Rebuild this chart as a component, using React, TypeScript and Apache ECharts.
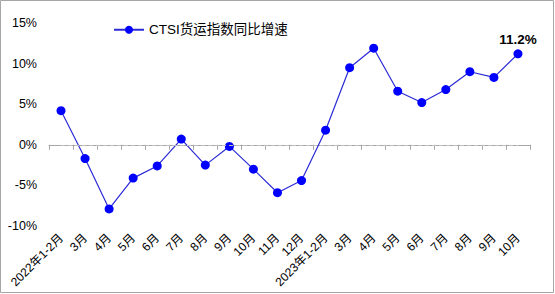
import React, { useEffect, useRef } from "react";
import * as echarts from "echarts";

const categories = [
  "2022年1-2月", "3月", "4月", "5月", "6月", "7月", "8月", "9月", "10月", "11月", "12月",
  "2023年1-2月", "3月", "4月", "5月", "6月", "7月", "8月", "9月", "10月",
];
const growth = [4.2, -1.7, -7.9, -4.1, -2.6, 0.7, -2.5, -0.2, -3.0, -5.9, -4.4, 1.8, 9.5, 11.9, 6.6, 5.2, 6.8, 9.0, 8.3, 11.2];
const seriesName = "CTSI货运指数同比增速";
const yMin = -10;
const yMax = 15;
const yStep = 5;

const FONT = "'Liberation Sans', Arial, 'Noto Sans CJK SC', sans-serif";

export default function App() {
  const ref = useRef<HTMLDivElement>(null);
  useEffect(() => {
    document.body.style.margin = "0";
    if (!ref.current) return;
    const chart = echarts.init(ref.current, null, { renderer: "svg" });
    const last = growth.length - 1;
    chart.setOption({
      animation: false,
      backgroundColor: "#ffffff",
      textStyle: { fontFamily: FONT },
      graphic: [
        {
          type: "rect",
          shape: { x: 0.5, y: 0.5, width: 553, height: 292 },
          style: { fill: "none", stroke: "#a6a6a6", lineWidth: 1 },
          silent: true,
        },
      ],
      legend: {
        left: 108,
        top: 18,
        itemWidth: 30,
        itemHeight: 10,
        itemGap: 4,
        textStyle: { fontSize: 13.5, color: "#000", fontFamily: FONT },
        data: [seriesName],
      },
      grid: { left: 49, right: 25, top: 23, bottom: 68, containLabel: false },
      xAxis: {
        type: "category",
        data: categories,
        boundaryGap: true,
        axisLine: { show: true, lineStyle: { color: "#a6a6a6", width: 1 } },
        axisTick: { show: true, alignWithLabel: false, length: 5, lineStyle: { color: "#a6a6a6" } },
        axisLabel: {
          interval: 0,
          rotate: 45,
          fontSize: 12,
          color: "#000",
          fontFamily: FONT,
          margin: 10,
        },
      },
      yAxis: {
        type: "value",
        min: yMin,
        max: yMax,
        interval: yStep,
        axisLine: { show: false },
        axisTick: { show: false },
        splitLine: { show: false },
        axisLabel: {
          formatter: (v: number) => `${v}%`,
          fontSize: 12.5,
          color: "#000",
          fontFamily: FONT,
          margin: 12,
        },
      },
      series: [
        {
          name: seriesName,
          type: "line",
          data: growth.map((v, i) =>
            i === last
              ? {
                  value: v,
                  label: {
                    show: true,
                    position: "top",
                    distance: 3,
                    formatter: (p: any) => `${p.value}%`,
                    fontSize: 13.5,
                    fontWeight: "bold",
                    color: "#000",
                    fontFamily: FONT,
                  },
                }
              : v
          ),
          symbol: "circle",
          symbolSize: 9,
          itemStyle: { color: "#0000ff" },
          lineStyle: { color: "#2a2ad6", width: 1.2 },
          markLine: {
            silent: true,
            symbol: "none",
            label: { show: false },
            lineStyle: { color: "#bfbfbf", type: [4, 3], width: 1 },
            data: [[{ coord: [0, 0] }, { coord: [last, 0] }]],
          },
        },
      ],
    });
    return () => chart.dispose();
  }, []);
  return <div ref={ref} style={{ width: 555, height: 294 }} />;
}
